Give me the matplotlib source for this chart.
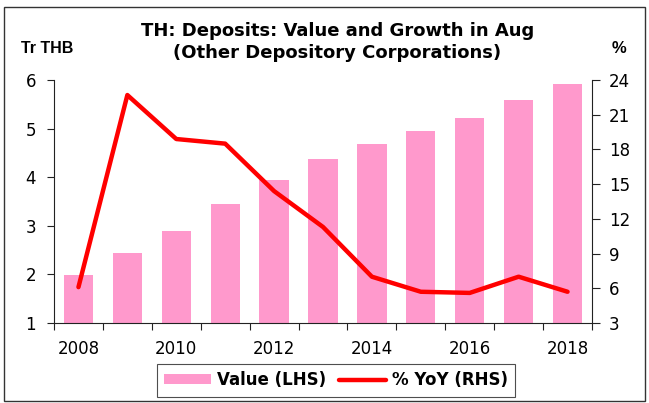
import matplotlib
matplotlib.use("Agg")
import matplotlib.pyplot as plt
import numpy as np
from matplotlib.patches import Rectangle

years = [2008, 2009, 2010, 2011, 2012, 2013, 2014, 2015, 2016, 2017, 2018]
value_lhs = [1.99, 2.45, 2.90, 3.44, 3.94, 4.37, 4.68, 4.95, 5.22, 5.59, 5.91]
yoy_rhs = [6.1, 22.7, 18.9, 18.5, 14.4, 11.3, 7.0, 5.7, 5.6, 7.0, 5.7]
left_ticks = [1, 2, 3, 4, 5, 6]
right_ticks = [3, 6, 9, 12, 15, 18, 21, 24]
xlabels = ["2008", "2010", "2012", "2014", "2016", "2018"]

plt.rcParams['font.family'] = ['DejaVu Sans']

fig = plt.figure(figsize=(6.49, 4.03), dpi=100)
W, H = 649, 403
ax = fig.add_axes([54 / W, 1 - 323 / H, (592 - 54) / W, (323 - 80) / H])
ax2 = ax.twinx()

x = np.arange(len(years))
bars = ax.bar(x, value_lhs, width=0.6, bottom=0, color='#FF99CC', zorder=2)
ax.set_ylim(1, 6)
ax.set_xlim(-0.5, len(years) - 0.5)
ax.set_yticks(left_ticks)
ax.set_yticklabels([str(t) for t in left_ticks], fontsize=12)

ln, = ax2.plot(x, yoy_rhs, color='#FF0000', lw=3.2, zorder=3, solid_capstyle='round')
ax2.set_ylim(3, 24)
ax2.set_yticks(right_ticks)
ax2.set_yticklabels([str(t) for t in right_ticks], fontsize=12)

# x ticks: marks at boundaries, labels at even-year centers
ax.set_xticks(np.arange(-0.5, len(years), 1.0))
ax.set_xticklabels([])
ax.set_xticks(x[::2], minor=True)
ax.set_xticklabels(xlabels, minor=True, fontsize=12)
ax.tick_params(axis='x', which='minor', length=0, pad=12)
ax.tick_params(axis='x', which='major', length=5, direction='out', width=0.8, color='#222222')
ax.tick_params(axis='y', length=5, direction='out', width=0.8, color='#222222', pad=8)
ax2.tick_params(axis='y', length=6, direction='out', width=0.8, color='#222222', pad=6)

for a in (ax, ax2):
    a.spines['top'].set_visible(False)
    for s in ('left', 'right', 'bottom'):
        a.spines[s].set_color('#222222')
        a.spines[s].set_linewidth(0.8)
ax.spines['right'].set_visible(False)
ax2.spines['left'].set_visible(False)
ax2.spines['bottom'].set_visible(False)

fig.text(338 / W, 1 - 31.5 / H, "TH: Deposits: Value and Growth in Aug", ha='center', va='center',
         fontsize=13, fontweight='bold')
fig.text(337 / W, 1 - 52.5 / H, "(Other Depository Corporations)", ha='center', va='center',
         fontsize=13, fontweight='bold')
fig.text(47 / W, 1 - 48.5 / H, "Tr THB", ha='center', va='center', fontsize=11.5, fontweight='bold',
         family='Liberation Sans')
fig.text(619 / W, 1 - 48.5 / H, "%", ha='center', va='center', fontsize=12, fontweight='bold',
         family='Liberation Sans')

leg = fig.legend([bars, ln], ['Value (LHS)', '% YoY (RHS)'], loc='center', ncol=2,
                 bbox_to_anchor=(336 / W, 1 - 380 / H), frameon=True, fancybox=False,
                 edgecolor='#222222', prop={'weight': 'bold', 'size': 12},
                 handlelength=2.8, handleheight=0.5, handletextpad=0.35, columnspacing=0.8,
                 borderpad=0.45, borderaxespad=0)
leg.get_frame().set_linewidth(0.8)

fig.patches.append(Rectangle((4 / W, 2 / H), (W - 8) / W, (H - 9) / H, transform=fig.transFigure,
                             fill=False, edgecolor='#333333', lw=1.0))

fig.savefig("out.png", dpi=100)
